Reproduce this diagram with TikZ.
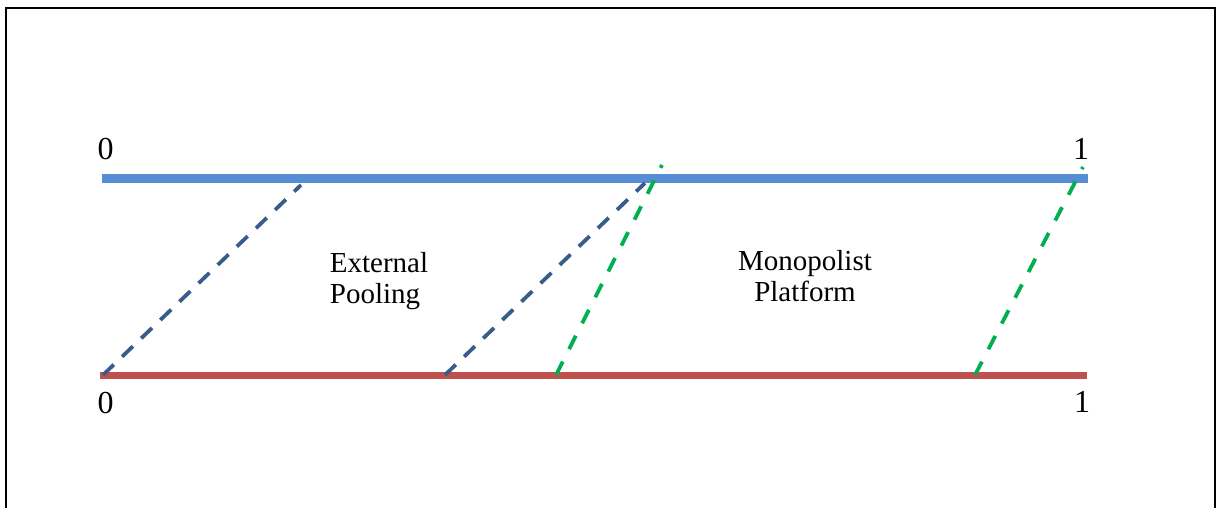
\documentclass[tikz,border=0pt]{standalone}
\usepackage{fontspec}
\setmainfont{Liberation Serif}
\definecolor{topblue}{HTML}{558ED5}
\definecolor{botred}{HTML}{C0504D}
\definecolor{dashblue}{HTML}{385D8A}
\definecolor{dashgreen}{HTML}{00B050}
\begin{document}
\begin{tikzpicture}[x=1pt,y=-1pt,
  frame/.style={line width=2pt,black},
  topline/.style={line width=8.5pt,topblue},
  botline/.style={line width=7.5pt,botred},
  bluedash/.style={line width=3.8pt,dashblue,dash pattern=on 15pt off 11.5pt},
  greendash/.style={line width=3.8pt,dashgreen,dash pattern=on 15pt off 14pt},
  numlabel/.style={inner sep=0pt,font=\fontsize{32}{36}\selectfont},
  region/.style={inner sep=0pt,font=\fontsize{29}{31}\selectfont}]
\useasboundingbox (0,0) rectangle (1217,508);
\draw[frame] (6,508) -- (6,8) -- (1215,8) -- (1215,508);
% axis end points
\coordinate (t0) at (102,178.5);
\coordinate (t1) at (1088,178.5);
\coordinate (b0) at (100,375.5);
\coordinate (b1) at (1087,375.5);
\draw[topline] (t0) -- (t1);
\draw[botline] (b0) -- (b1);
% labels
\node[numlabel] (lt0) at (105.5,149) {0};
\node[numlabel] (lt1) at (1081,148.5) {1};
\node[numlabel] (lb0) at (105.5,403) {0};
\node[numlabel] (lb1) at (1082,402) {1};
\node[region,align=left] (ext) at (379,281.5) {External\\Pooling};
\node[region,align=center] (mon) at (805,276) {Monopolist\\Platform};
% dashed connectors
\coordinate (bd1a) at (103,375);
\coordinate (bd1b) at (301,185);
\coordinate (bd2a) at (445,375);
\coordinate (bd2b) at (645,183);
\coordinate (gd1a) at (556,375);
\coordinate (gd1b) at (662,165);
\coordinate (gd2a) at (975,375);
\coordinate (gd2b) at (1083,167);
\draw[bluedash] (bd1a) -- (bd1b);
\draw[bluedash] (bd2a) -- (bd2b);
\draw[greendash] (gd1a) -- (gd1b);
\draw[greendash] (gd2a) -- (gd2b);
\end{tikzpicture}
\end{document}
